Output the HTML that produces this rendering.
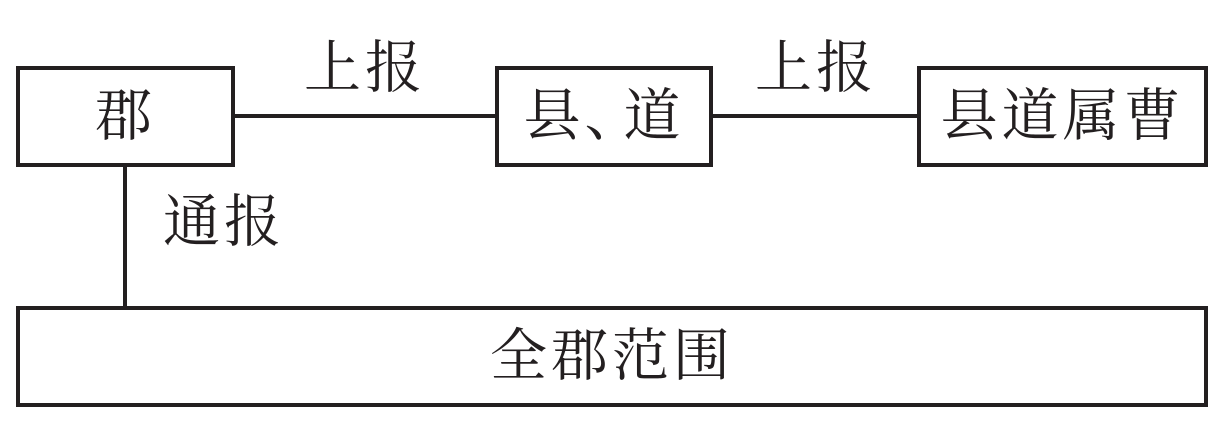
<!DOCTYPE html>
<html><head><meta charset="utf-8"><style>
body{margin:0;width:1227px;height:427px;background:#fff;position:relative;overflow:hidden;font-family:"Liberation Serif","Noto Serif CJK SC",serif;color:#231f20}
.b{position:absolute;border:4px solid #231f20;box-sizing:border-box;display:flex;align-items:center;justify-content:center;font-size:57px;line-height:1;letter-spacing:4px}
.l{position:absolute;background:#231f20}
.t{position:absolute;font-size:57px;line-height:1;letter-spacing:4px}
</style></head><body>
<div class="b" style="left:16px;top:66px;width:219px;height:101px">郡</div>
<div class="b" style="left:495px;top:66px;width:218px;height:101px">县<span style="letter-spacing:-22px">、</span><span style="margin-left:4px">道</span></div>
<div class="b" style="left:917px;top:66px;width:291px;height:101px">县道属曹</div>
<div class="b" style="left:16px;top:306px;width:1192px;height:101px">全郡范围</div>
<div class="l" style="left:235px;top:114px;width:260px;height:4px"></div>
<div class="l" style="left:713px;top:114px;width:204px;height:4px"></div>
<div class="l" style="left:123px;top:167px;width:4px;height:139px"></div>
<div class="t" style="left:304px;top:40px">上报</div>
<div class="t" style="left:755px;top:40px">上报</div>
<div class="t" style="left:163px;top:194px">通报</div>
</body></html>
